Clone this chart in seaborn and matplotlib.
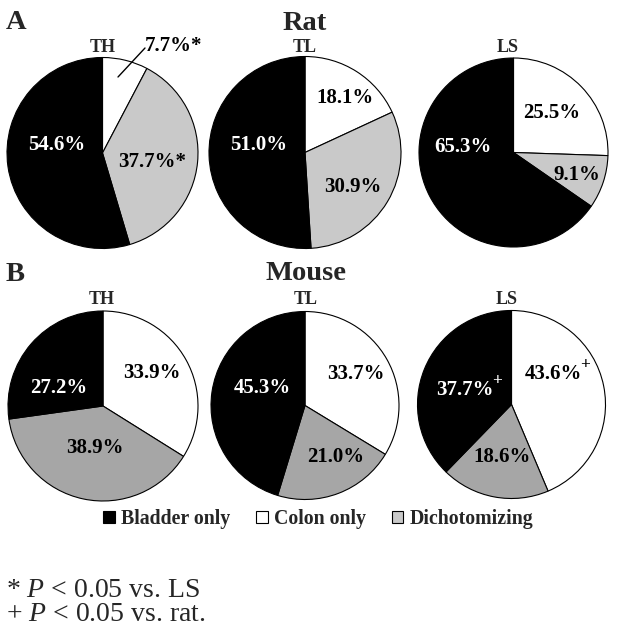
import matplotlib
matplotlib.use("Agg")
import matplotlib.pyplot as plt
import seaborn as sns
from matplotlib.patches import Patch

# ---- data ----
regions = ["TH", "TL", "LS"]
rat_bladder = [54.6, 51.0, 65.3]
rat_colon = [7.7, 18.1, 25.5]
rat_dichot = [37.7, 30.9, 9.1]
mouse_bladder = [27.2, 45.3, 37.7]
mouse_colon = [33.9, 33.7, 43.6]
mouse_dichot = [38.9, 21.0, 18.6]
# significance marks (bladder, colon, dichot) per region
rat_marks = [("", "*", "*"), ("", "", ""), ("", "", "")]
mouse_marks = [("", "", ""), ("", "", ""), ("+", "+", "")]
legend_labels = ["Bladder only", "Colon only", "Dichotomizing"]

sns.set_theme(style="white")
plt.rcParams["font.family"] = ["Liberation Serif", "DejaVu Serif"]
plt.rcParams["mathtext.fontset"] = "custom"
plt.rcParams["mathtext.it"] = "Liberation Serif:italic"
plt.rcParams["mathtext.rm"] = "Liberation Serif"

W, H = 617, 636
fig = plt.figure(figsize=(W / 100, H / 100), dpi=100)
fig.patch.set_facecolor("white")

def fx(x):
    return x / W

def fy(y):
    return 1 - y / H

# pie geometry in pixels (cx, cy, r)
rat_geo = [(102.5, 153, 95.5), (305, 152.5, 96), (513.5, 152.5, 94.5)]
mouse_geo = [(103, 406, 95), (305, 405.5, 94), (511.5, 404.5, 94)]

# label centres in pixels (bladder, colon, dichot)
rat_lab = [[(57, 145), (173, 46), (152, 162)],
           [(259, 145), (345, 98), (353, 187)],
           [(463, 147), (552, 113), (577, 175)]]
mouse_lab = [[(59, 388), (152, 373), (95, 448)],
             [(262, 388), (356, 374), (336, 457)],
             [(465, 390), (553, 374), (502, 457)]]

rat_grey = "#c9c9c9"
mouse_grey = "#a6a6a6"

def draw(geo, b, c, d, marks, labs, grey):
    cx, cy, r = geo
    ax = fig.add_axes([fx(cx - r), fy(cy + r), 2 * r / W, 2 * r / H])
    ax.pie([c, d, b], colors=["white", grey, "black"], startangle=90,
           counterclock=False, radius=1,
           wedgeprops=dict(edgecolor="black", linewidth=0.8))
    ax.set_xlim(-1, 1)
    ax.set_ylim(-1, 1)
    ax.axis("off")
    vals = [b, c, d]
    cols = ["white", "black", "black"]
    for i in range(3):
        px, py = labs[i]
        txt = f"{vals[i]:.1f}%"
        mk = marks[i]
        if mk == "*":
            txt = txt + "*"
            mk = ""
        t = fig.text(fx(px), fy(py), txt, ha="center", va="center",
                     fontsize=15, fontweight="bold", color=cols[i])
        if mk:
            ax.annotate(mk, xy=(1.0, 0.95), xycoords=t, xytext=(-1.0, 0),
                        textcoords="offset points", ha="left", va="center",
                        fontsize=12.5, fontweight="bold", color=cols[i],
                        annotation_clip=False)
    return ax

for i in range(3):
    ax = draw(rat_geo[i], rat_bladder[i], rat_colon[i], rat_dichot[i],
              rat_marks[i], rat_lab[i], rat_grey)
    if i == 0:
        cx, cy, r = rat_geo[0]
        ax.plot([(118 - cx) / r, (145 - cx) / r],
                [(cy - 77) / r, (cy - 48) / r],
                color="black", lw=1.0, clip_on=False)
for i in range(3):
    draw(mouse_geo[i], mouse_bladder[i], mouse_colon[i], mouse_dichot[i],
         mouse_marks[i], mouse_lab[i], mouse_grey)

# sub labels
rat_sub_x = [103, 305, 508]
mouse_sub_x = [102, 306, 507]
for i in range(3):
    fig.text(fx(rat_sub_x[i]), fy(52), regions[i], ha="center", va="baseline",
             fontsize=13, fontweight="bold")
    fig.text(fx(mouse_sub_x[i]), fy(304), regions[i], ha="center", va="baseline",
             fontsize=13, fontweight="bold")

# titles / panel letters
fig.text(fx(305), fy(30), "Rat", ha="center", va="baseline", fontsize=20.5, fontweight="bold")
fig.text(fx(306), fy(280), "Mouse", ha="center", va="baseline", fontsize=20.5, fontweight="bold")
fig.text(fx(6), fy(29), "A", ha="left", va="baseline", fontsize=20.5, fontweight="bold")
fig.text(fx(6), fy(281), "B", ha="left", va="baseline", fontsize=20.5, fontweight="bold")

# legend
handles = [Patch(facecolor=col, edgecolor="black", linewidth=0.8)
           for col in ["black", "white", rat_grey]]
leg = fig.legend(handles, legend_labels, loc="center",
                 bbox_to_anchor=(fx(318), fy(519)), ncol=3, frameon=False,
                 handlelength=0.6, handleheight=0.6, handletextpad=0.3,
                 columnspacing=1.3, borderpad=0,
                 prop=dict(family="Liberation Serif", weight="bold", size=14.3))

# footnotes
fig.text(fx(6), fy(597), "* $P$ < 0.05 vs. LS", ha="left", va="baseline", fontsize=20)
fig.text(fx(6), fy(621), "+ $P$ < 0.05 vs. rat.", ha="left", va="baseline", fontsize=20)

fig.savefig("out.png", dpi=100, facecolor="white")
